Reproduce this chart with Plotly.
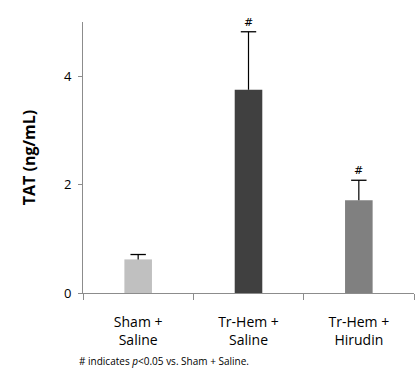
import plotly.graph_objects as go

# TAT levels per treatment group
groups = ["Sham +<br>Saline", "Tr-Hem +<br>Saline", "Tr-Hem +<br>Hirudin"]
tat_mean = [0.62, 3.75, 1.71]
tat_sem = [0.09, 1.07, 0.37]
bar_colors = ["#c0c0c0", "#404040", "#808080"]
significant = [False, True, True]
y_ticks = [0, 2, 4]

upper = [m + e for m, e in zip(tat_mean, tat_sem)]

fig = go.Figure()
# bars with upward-only error stems (no caps here)
fig.add_trace(go.Bar(
    x=groups, y=tat_mean,
    marker=dict(color=bar_colors, line=dict(width=0)),
    width=0.25,
    error_y=dict(type="data", array=tat_sem, arrayminus=[0, 0, 0],
                 symmetric=False, color="black", thickness=1.2, width=0),
))
# caps at the top of each error stem
fig.add_trace(go.Scatter(
    x=groups, y=upper, mode="markers",
    marker=dict(symbol="line-ew", size=11, color="black",
                line=dict(color="black", width=1.3)),
    hoverinfo="skip",
))

for g, u, s in zip(groups, upper, significant):
    if s:
        fig.add_annotation(x=g, y=u, text="#", showarrow=False,
                           yanchor="bottom", yshift=1,
                           font=dict(family="DejaVu Serif", size=11, color="black"))

fig.add_annotation(xref="paper", yref="paper", x=-0.018, y=-0.25,
                   xanchor="left", yanchor="middle", showarrow=False,
                   text="# indicates <i>p</i><0.05 vs. Sham + Saline.",
                   font=dict(family="Open Sans", size=10, color="black"))

fig.update_layout(
    width=417, height=375,
    margin=dict(l=83, r=3, t=22, b=82),
    plot_bgcolor="white", paper_bgcolor="white",
    showlegend=False,
    font=dict(family="Open Sans", size=12, color="black"),
    xaxis=dict(showline=True, linecolor="#8c8c8c", linewidth=1,
               ticks="outside", tickson="boundaries", ticklen=6,
               tickcolor="#8c8c8c", tickfont=dict(size=14),
               ticklabelstandoff=16,
               showgrid=False, range=[-0.5, 2.5]),
    yaxis=dict(range=[0, 5], tickvals=y_ticks, showline=True,
               linecolor="#8c8c8c", linewidth=1, ticks="outside",
               ticklen=4, tickcolor="#8c8c8c", showgrid=False,
               zeroline=False, tickfont=dict(size=13),
               ticklabelstandoff=4,
               title=dict(text="<b>TAT (ng/mL)</b>", standoff=24,
                          font=dict(size=16))),
    bargap=0.75,
)

fig.write_html("out.html")
